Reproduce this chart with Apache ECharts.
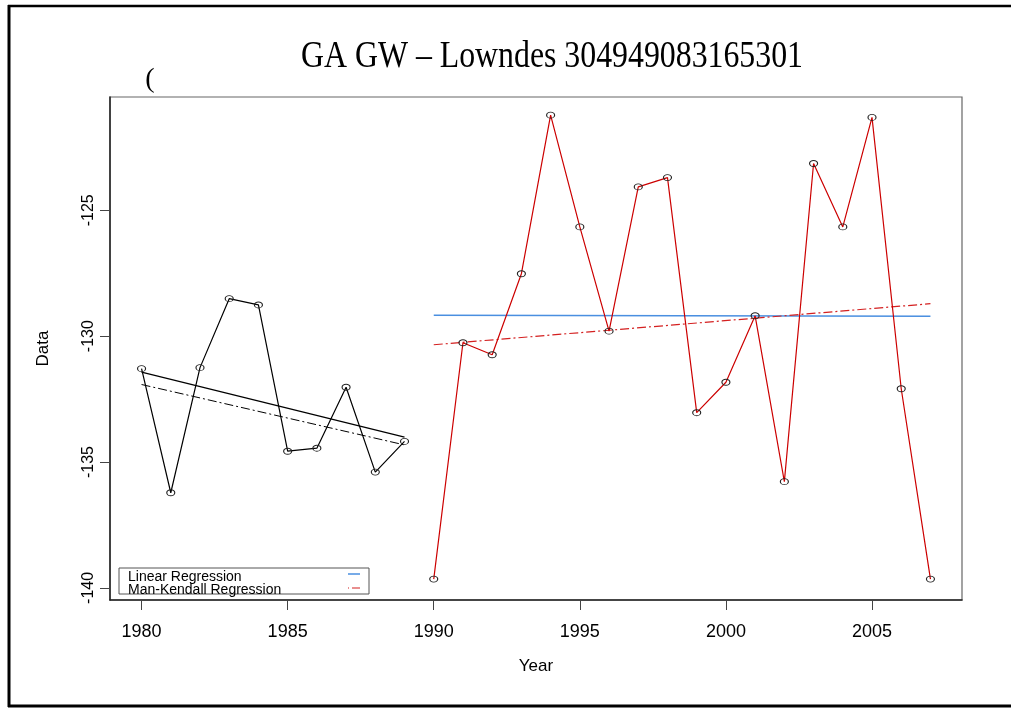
<!DOCTYPE html>
<html>
<head>
<meta charset="utf-8">
<script src="https://cdn.jsdelivr.net/npm/echarts@6/dist/echarts.min.js"></script>
<style>html,body{margin:0;padding:0;background:#fff;}#c{width:1011px;height:710px;}</style>
</head>
<body>
<div id="c"></div>
<script>
// ---- data ----
const blackYears = [1980, 1981, 1982, 1983, 1984, 1985, 1986, 1987, 1988, 1989];
const blackValues = [-131.29, -136.22, -131.25, -128.51, -128.76, -134.57, -134.45, -132.03, -135.40, -134.18];
const redYears = [1990, 1991, 1992, 1993, 1994, 1995, 1996, 1997, 1998, 1999, 2000, 2001, 2002, 2003, 2004, 2005, 2006, 2007];
const redValues = [-139.65, -130.26, -130.74, -127.52, -121.22, -125.66, -129.80, -124.07, -123.70, -133.04, -131.83, -129.19, -135.78, -123.14, -125.66, -121.31, -132.09, -139.65];
// regression line end points
const blackLinearYears = [1980, 1989];
const blackLinearValues = [-131.43, -134.01];
const blackMKYears = [1980, 1989];
const blackMKValues = [-131.92, -134.32];
const redLinearYears = [1990, 2007];
const redLinearValues = [-129.17, -129.21];
const redMKYears = [1990, 2007];
const redMKValues = [-130.34, -128.71];
const xTicks = [1980, 1985, 1990, 1995, 2000, 2005];
const yTicks = [-140, -135, -130, -125];
const titleText = 'GA GW \u2013 Lowndes 304949083165301';
const legendLabels = ['Linear Regression', 'Man-Kendall Regression'];

const zip = (xs, ys) => xs.map((x, i) => [x, ys[i]]);
const dashDot = [9, 3, 2, 3];
const sym = {symbol: 'circle', symbolSize: [8, 6], itemStyle: {color: 'rgba(0,0,0,0)', borderColor: '#222', borderWidth: 1}};

const chart = echarts.init(document.getElementById('c'), null, {renderer: 'canvas'});
chart.setOption({
  animation: false,
  backgroundColor: '#fff',
  grid: {left: 110, right: 49, top: 97, bottom: 110, show: true, borderColor: '#666', borderWidth: 1.2, backgroundColor: 'transparent'},
  xAxis: {
    type: 'value', min: 1978.92, max: 2008.08,
    name: 'Year', nameLocation: 'middle', nameGap: 58,
    nameTextStyle: {fontFamily: 'Liberation Sans', fontSize: 17, color: '#000'},
    axisLine: {show: true, onZero: false, lineStyle: {color: '#222', width: 1.5}},
    axisTick: {show: true, customValues: xTicks, length: 10, lineStyle: {color: '#444', width: 1}},
    axisLabel: {customValues: xTicks, formatter: v => String(v), fontFamily: 'Liberation Sans', fontSize: 18, color: '#000', margin: 23},
    splitLine: {show: false}
  },
  yAxis: {
    type: 'value', min: -140.48, max: -120.5,
    name: 'Data', nameLocation: 'middle', nameGap: 58, nameRotate: 90,
    nameTextStyle: {fontFamily: 'Liberation Sans', fontSize: 17, color: '#000'},
    axisLine: {show: true, onZero: false, lineStyle: {color: '#222', width: 1.5}},
    axisTick: {show: true, customValues: yTicks, length: 10, lineStyle: {color: '#444', width: 1}},
    axisLabel: {customValues: yTicks, formatter: v => String(v), rotate: 90, fontFamily: 'Liberation Sans', fontSize: 16, color: '#000', margin: 13},
    splitLine: {show: false}
  },
  series: [
    {type: 'line', data: zip(blackLinearYears, blackLinearValues), showSymbol: false, lineStyle: {color: '#000', width: 1.2}, z: 2},
    {type: 'line', data: zip(blackMKYears, blackMKValues), showSymbol: false, lineStyle: {color: '#000', width: 1, type: dashDot}, z: 2},
    {type: 'line', data: zip(redLinearYears, redLinearValues), showSymbol: false, lineStyle: {color: '#4a8fe0', width: 1.5}, z: 2},
    {type: 'line', data: zip(redMKYears, redMKValues), showSymbol: false, lineStyle: {color: '#d42020', width: 1.2, type: dashDot}, z: 2},
    Object.assign({type: 'line', data: zip(blackYears, blackValues), lineStyle: {color: '#000', width: 1.2}, z: 3}, sym),
    Object.assign({type: 'line', data: zip(redYears, redValues), lineStyle: {color: '#cc0000', width: 1.2}, z: 3}, sym)
  ],
  graphic: [
    // outer frame
    {type: 'line', shape: {x1: 9, y1: 5, x2: 9, y2: 707}, style: {stroke: '#000', lineWidth: 3}},
    {type: 'line', shape: {x1: 8, y1: 6, x2: 1011, y2: 6}, style: {stroke: '#000', lineWidth: 2.5}},
    {type: 'line', shape: {x1: 8, y1: 706, x2: 1011, y2: 706}, style: {stroke: '#000', lineWidth: 3}},
    // title (condensed serif)
    {type: 'text', x: 552, y: 57, scaleX: 0.86, style: {text: titleText, fontFamily: 'Liberation Serif', fontSize: 37, fill: '#000', textAlign: 'center', textVerticalAlign: 'middle'}},
    // stray glyph
    {type: 'text', x: 150, y: 80, style: {text: '(', fontFamily: 'Liberation Serif', fontSize: 28, fill: '#000', textAlign: 'center', textVerticalAlign: 'middle'}},
    // legend box
    {type: 'rect', shape: {x: 119, y: 568, width: 250, height: 26}, style: {fill: '#fff', stroke: '#555', lineWidth: 1}, z: 10},
    {type: 'text', x: 128, y: 577, style: {text: legendLabels[0], fontFamily: 'Liberation Sans', fontSize: 14, fill: '#000', textVerticalAlign: 'middle'}, z: 11},
    {type: 'text', x: 128, y: 590, style: {text: legendLabels[1], fontFamily: 'Liberation Sans', fontSize: 14, fill: '#000', textVerticalAlign: 'middle'}, z: 11},
    {type: 'line', shape: {x1: 348, y1: 574, x2: 360, y2: 574}, style: {stroke: '#4a8fe0', lineWidth: 1.5}, z: 11},
    {type: 'line', shape: {x1: 348, y1: 588, x2: 360, y2: 588}, style: {stroke: '#d42020', lineWidth: 1.2, lineDash: [1, 3, 8, 3]}, z: 11}
  ]
});
</script>
</body>
</html>
